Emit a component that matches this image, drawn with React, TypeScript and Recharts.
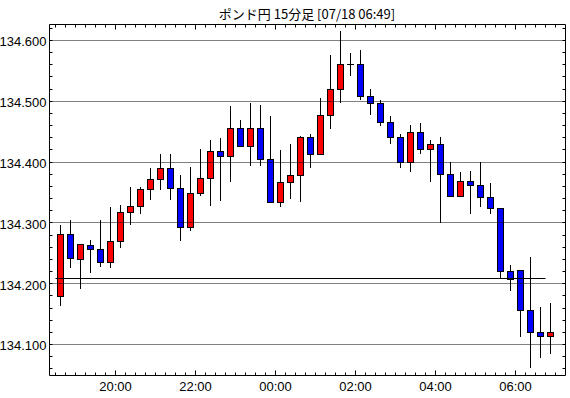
import { ComposedChart, Bar, XAxis, YAxis, ReferenceLine, Customized } from 'recharts'

// 15分足 18:30 〜 06:45
const times = [
  '18:30', '18:45', '19:00', '19:15', '19:30', '19:45', '20:00', '20:15', '20:30', '20:45',
  '21:00', '21:15', '21:30', '21:45', '22:00', '22:15', '22:30', '22:45', '23:00', '23:15',
  '23:30', '23:45', '00:00', '00:15', '00:30', '00:45', '01:00', '01:15', '01:30', '01:45',
  '02:00', '02:15', '02:30', '02:45', '03:00', '03:15', '03:30', '03:45', '04:00', '04:15',
  '04:30', '04:45', '05:00', '05:15', '05:30', '05:45', '06:00', '06:15', '06:30', '06:45',
]

const opens = [
  134.180, 134.281, 134.240, 134.264, 134.257, 134.235, 134.270, 134.318, 134.327, 134.355,
  134.372, 134.390, 134.357, 134.293, 134.349, 134.374, 134.418, 134.410, 134.456, 134.426,
  134.456, 134.405, 134.335, 134.367, 134.379, 134.441, 134.413, 134.477, 134.520, 134.561,
  134.561, 134.509, 134.498, 134.466, 134.441, 134.400, 134.449, 134.421, 134.430, 134.380,
  134.345, 134.369, 134.362, 134.343, 134.324, 134.221, 134.223, 134.157, 134.121, 134.114,
]
const highs = [
  134.296, 134.305, 134.266, 134.272, 134.305, 134.326, 134.330, 134.359, 134.359, 134.390,
  134.414, 134.414, 134.378, 134.392, 134.422, 134.437, 134.439, 134.492, 134.470, 134.498,
  134.494, 134.476, 134.420, 134.430, 134.443, 134.447, 134.505, 134.576, 134.615, 134.579,
  134.584, 134.520, 134.502, 134.476, 134.446, 134.461, 134.464, 134.437, 134.441, 134.400,
  134.384, 134.386, 134.400, 134.365, 134.325, 134.230, 134.223, 134.244, 134.161, 134.169,
]
const lows = [
  134.164, 134.225, 134.191, 134.218, 134.228, 134.225, 134.258, 134.297, 134.314, 134.338,
  134.354, 134.337, 134.270, 134.286, 134.345, 134.327, 134.336, 134.367, 134.424, 134.394,
  134.393, 134.335, 134.326, 134.340, 134.335, 134.391, 134.411, 134.455, 134.498, 134.542,
  134.502, 134.477, 134.460, 134.429, 134.391, 134.383, 134.413, 134.367, 134.300, 134.344,
  134.344, 134.314, 134.326, 134.314, 134.209, 134.188, 134.113, 134.062, 134.078, 134.084,
]
const closes = [
  134.281, 134.242, 134.265, 134.257, 134.235, 134.271, 134.318, 134.327, 134.355, 134.372,
  134.390, 134.357, 134.293, 134.349, 134.374, 134.418, 134.410, 134.456, 134.426, 134.456,
  134.405, 134.335, 134.367, 134.379, 134.441, 134.413, 134.477, 134.520, 134.561, 134.561,
  134.509, 134.498, 134.466, 134.441, 134.400, 134.449, 134.421, 134.430, 134.380, 134.345,
  134.369, 134.362, 134.343, 134.325, 134.221, 134.208, 134.157, 134.121, 134.114, 134.121,
]

const xLabels = ['20:00', '22:00', '00:00', '02:00', '04:00', '06:00']
const yLabels = [134.1, 134.2, 134.3, 134.4, 134.5, 134.6]
const basePrice = 134.208
const baseLineSpan = [-0.5, 48.5]
const title = 'ポンド円 15分足 [07/18 06:49]'

const UP = '#ff0000'
const DOWN = '#0000ff'
const AXIS_FONT = '"Liberation Sans Narrow", "Liberation Sans", Arial, sans-serif'

const data = times.map((time, i) => ({
  idx: i,
  time,
  open: opens[i],
  high: highs[i],
  low: lows[i],
  close: closes[i],
  range: [lows[i], highs[i]],
}))

// ticks aux bornes de chaque bougie
const xTicks = [...times.map((_, i) => i - 0.5), times.length - 0.5]
const majorX = new Map(xLabels.map((l) => [times.indexOf(l) - 0.5, l]))
const yTicks = Array.from({ length: 29 }, (_, k) => Math.round((134.06 + k * 0.02) * 1000) / 1000)
const isMajorY = (v: number) => yLabels.some((l) => Math.abs(l - v) < 1e-6)

const crisp = (v: number) => Math.floor(v) + 0.5

function Candle(props: any) {
  const { x, y, width, height, payload } = props
  if (!payload || x == null || y == null) return null
  const cx = crisp(x + width / 2)
  const top = Math.min(y, y + height)
  const h = Math.abs(height)
  const { open, close, high, low } = payload
  const toY = (v: number) => top + ((high - v) / (high - low)) * h
  const bTop = Math.round(Math.min(toY(open), toY(close)))
  const bBot = Math.round(Math.max(toY(open), toY(close)))
  const fill = close >= open ? UP : DOWN
  return (
    <g>
      <line x1={cx} x2={cx} y1={Math.round(top)} y2={Math.round(top + h)} stroke="#000" strokeWidth={1} />
      {bBot - bTop < 1 ? (
        <line x1={cx - 3.5} x2={cx + 3.5} y1={bTop + 0.5} y2={bTop + 0.5} stroke="#000" strokeWidth={1} />
      ) : (
        <rect x={cx - 3} y={bTop + 0.5} width={6} height={bBot - bTop} fill={fill} stroke="#000" strokeWidth={1} />
      )}
    </g>
  )
}

// ligne horizontale alignée sur le pixel
function CrispLine(props: any) {
  const { x1, x2, y1, stroke, strokeDasharray } = props
  const yy = crisp(y1)
  return <line x1={x1} x2={x2} y1={yy} y2={yy} stroke={stroke} strokeDasharray={strokeDasharray} strokeWidth={1} />
}

function BottomTick({ x, y, payload }: any) {
  const label = majorX.get(payload.value)
  const px = crisp(x)
  return (
    <g>
      <line x1={px} x2={px} y1={y} y2={y - (label ? 5 : 3)} stroke="#000" />
      {label && (
        <text x={x} y={y + 15} textAnchor="middle" fontSize={13} fontFamily={AXIS_FONT} fill="#000">
          {label}
        </text>
      )}
    </g>
  )
}

function TopTick({ x, y, payload }: any) {
  const major = majorX.has(payload.value)
  const px = crisp(x)
  return <line x1={px} x2={px} y1={y} y2={y + (major ? 5 : 3)} stroke="#000" />
}

function LeftTick({ x, y, payload }: any) {
  const v = payload.value
  const major = isMajorY(v)
  const py = crisp(y)
  return (
    <g>
      <line x1={x} x2={x + 3} y1={py} y2={py} stroke="#000" />
      {major && (
        <text x={x - 3} y={y + 6} textAnchor="end" fontSize={13} fontFamily={AXIS_FONT} fill="#000">
          {v.toFixed(3)}
        </text>
      )}
    </g>
  )
}

function RightTick({ x, y }: any) {
  const py = crisp(y)
  return <line x1={x} x2={x - 3} y1={py} y2={py} stroke="#000" />
}

export default function App() {
  return (
    <div style={{ position: 'absolute', left: 0, top: 0, width: 570, height: 398, background: '#fff' }}>
      <ComposedChart width={570} height={398} data={data} margin={{ top: 0, right: 0, bottom: 0, left: 0 }}>
        <XAxis
          xAxisId="bottom"
          dataKey="idx"
          type="number"
          domain={[-1.1, 50.5]}
          allowDataOverflow
          ticks={xTicks}
          interval={0}
          height={22.5}
          tickSize={0}
          tickMargin={0}
          tick={<BottomTick />}
          axisLine={{ stroke: '#000' }}
          tickLine={false}
        />
        <XAxis
          xAxisId="top"
          orientation="top"
          dataKey="idx"
          type="number"
          domain={[-1.1, 50.5]}
          allowDataOverflow
          ticks={xTicks}
          interval={0}
          height={24.5}
          tickSize={0}
          tickMargin={0}
          tick={<TopTick />}
          axisLine={{ stroke: '#000' }}
          tickLine={false}
        />
        <YAxis
          yAxisId="left"
          type="number"
          domain={[134.049, 134.6263]}
          allowDataOverflow
          ticks={yTicks}
          interval={0}
          width={49.5}
          tickSize={0}
          tickMargin={0}
          tick={<LeftTick />}
          axisLine={{ stroke: '#000' }}
          tickLine={false}
        />
        <YAxis
          yAxisId="right"
          orientation="right"
          type="number"
          domain={[134.049, 134.6263]}
          allowDataOverflow
          ticks={yTicks}
          interval={0}
          width={4.5}
          tickSize={0}
          tickMargin={0}
          tick={<RightTick />}
          axisLine={{ stroke: '#000' }}
          tickLine={false}
        />
        {yLabels.map((v) => (
          <ReferenceLine
            key={v}
            xAxisId="bottom"
            yAxisId="left"
            y={v}
            stroke="#000"
            strokeDasharray="1 1"
            shape={<CrispLine />}
          />
        ))}
        <Bar
          xAxisId="bottom"
          yAxisId="left"
          dataKey="range"
          barSize={7}
          shape={<Candle />}
          isAnimationActive={false}
        />
        <ReferenceLine
          xAxisId="bottom"
          yAxisId="left"
          segment={[
            { x: baseLineSpan[0], y: basePrice },
            { x: baseLineSpan[1], y: basePrice },
          ]}
          stroke="#000"
          shape={<CrispLine />}
        />
        <Customized
          component={() => (
            <text
              x={307}
              y={19}
              textAnchor="middle"
              fontSize={13}
              fontFamily='"Noto Sans CJK JP", "Noto Sans", sans-serif'
              fill="#000"
            >
              {title}
            </text>
          )}
        />
      </ComposedChart>
    </div>
  )
}
